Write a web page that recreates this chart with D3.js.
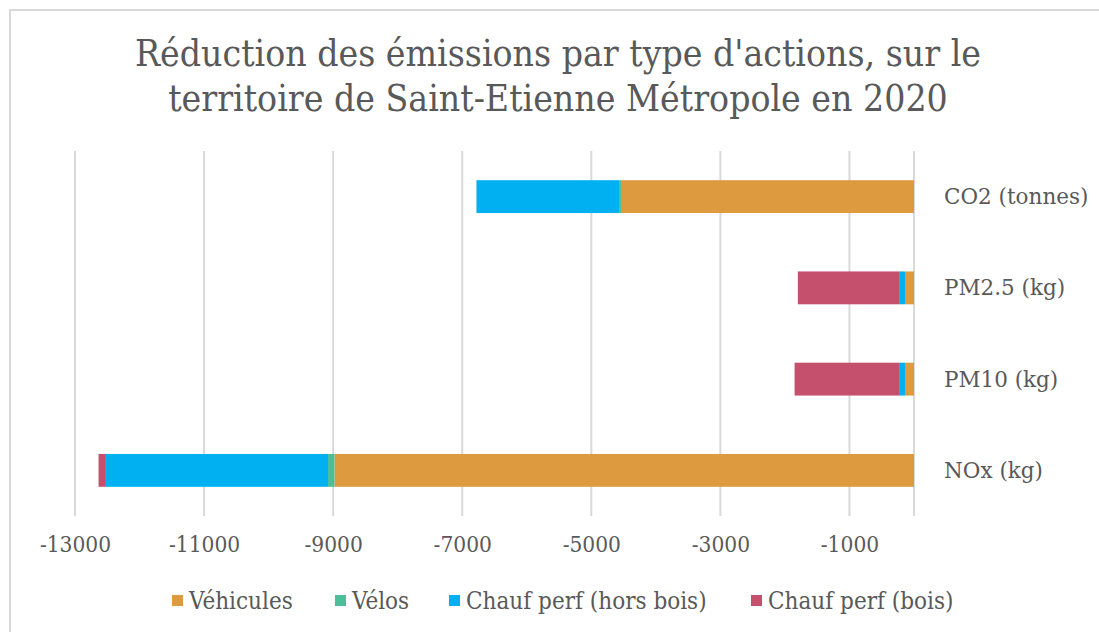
<!DOCTYPE html>
<html>
<head>
  <meta charset="utf-8">
  <script src="https://d3js.org/d3.v7.min.js"></script>
  <style>
    body { margin: 0; background: #fff; }
    svg text { fill: #595959; }
  </style>
</head>
<body>
<script>
  // values (negative = reduction)
  var categories = ["CO2 (tonnes)", "PM2.5 (kg)", "PM10 (kg)", "NOx (kg)"];
  var seriesNames = ["Véhicules", "Vélos", "Chauf perf (hors bois)", "Chauf perf (bois)"];
  var seriesColors = ["#dd9a3e", "#4cbf9a", "#00b0f0", "#c4506e"];
  var vehicules = [-4540, -140, -140, -8980];
  var velos = [-30, 0, 0, -100];
  var horsBois = [-2210, -80, -80, -3455];
  var bois = [0, -1580, -1630, -100];
  var tickValues = [-13000, -11000, -9000, -7000, -5000, -3000, -1000];

  var W = 1099, H = 632;
  var svg = d3.select("body").append("svg").attr("width", W).attr("height", H);

  // outer frame
  svg.append("rect").attr("x", 10).attr("y", 10).attr("width", W + 10).attr("height", H + 10)
    .attr("fill", "none").attr("stroke", "#d9d9d9").attr("stroke-width", 2);

  var font = "'DejaVu Serif', serif";

  svg.append("text").attr("x", 558).attr("y", 66).attr("text-anchor", "middle")
    .style("font-family", font).style("font-stretch", "condensed").style("font-size", "37px")
    .text("Réduction des émissions par type d'actions, sur le");
  svg.append("text").attr("x", 558).attr("y", 111).attr("text-anchor", "middle")
    .style("font-family", font).style("font-stretch", "condensed").style("font-size", "37px")
    .text("territoire de Saint-Etienne Métropole en 2020");

  var x = d3.scaleLinear().domain([-13000, 0]).range([75, 914]);
  var y = d3.scaleBand().domain(categories).range([151, 516]).paddingInner(0.64).paddingOuter(0.32);

  // gridlines
  svg.append("g").selectAll("line").data(tickValues.concat([0])).join("line")
    .attr("x1", d => x(d)).attr("x2", d => x(d))
    .attr("y1", 151).attr("y2", 516)
    .attr("stroke", "#d9d9d9").attr("stroke-width", 2);

  // stacked bars
  var rows = categories.map((c, i) => ({ cat: c, vals: [vehicules[i], velos[i], horsBois[i], bois[i]] }));
  var segs = [];
  rows.forEach(r => {
    var acc = 0;
    r.vals.forEach((v, j) => {
      segs.push({ cat: r.cat, s: j, x0: acc, x1: acc + v });
      acc += v;
    });
  });
  svg.append("g").selectAll("rect").data(segs.filter(d => d.x1 !== d.x0)).join("rect")
    .attr("x", d => x(d.x1))
    .attr("width", d => x(d.x0) - x(d.x1))
    .attr("y", d => y(d.cat))
    .attr("height", y.bandwidth())
    .attr("fill", d => seriesColors[d.s]);

  // category labels to the right
  svg.append("g").selectAll("text").data(categories).join("text")
    .attr("x", 944).attr("y", d => y(d) + y.bandwidth() / 2)
    .attr("dy", "0.35em")
    .style("font-family", font).style("font-size", "21.5px")
    .text(d => d);

  // x axis tick labels
  var axis = svg.append("g").attr("transform", "translate(0,516)")
    .call(d3.axisBottom(x).tickValues(tickValues).tickSize(0).tickPadding(20).tickFormat(d => String(d)));
  axis.select(".domain").remove();
  axis.selectAll("text")
    .style("font-family", font).style("font-stretch", "condensed").style("font-size", "22.5px")
    .attr("fill", "#595959");

  // legend
  var legendX = [172, 335, 449, 751];
  var legend = svg.append("g").selectAll("g").data(seriesNames).join("g")
    .attr("transform", (d, i) => "translate(" + legendX[i] + ",601)");
  legend.append("rect").attr("x", 0).attr("y", -6).attr("width", 11).attr("height", 11)
    .attr("fill", (d, i) => seriesColors[i]);
  legend.append("text").attr("x", 17).attr("dy", "0.35em")
    .style("font-family", font).style("font-stretch", "condensed").style("font-size", "24px")
    .text(d => d);
</script>
</body>
</html>
